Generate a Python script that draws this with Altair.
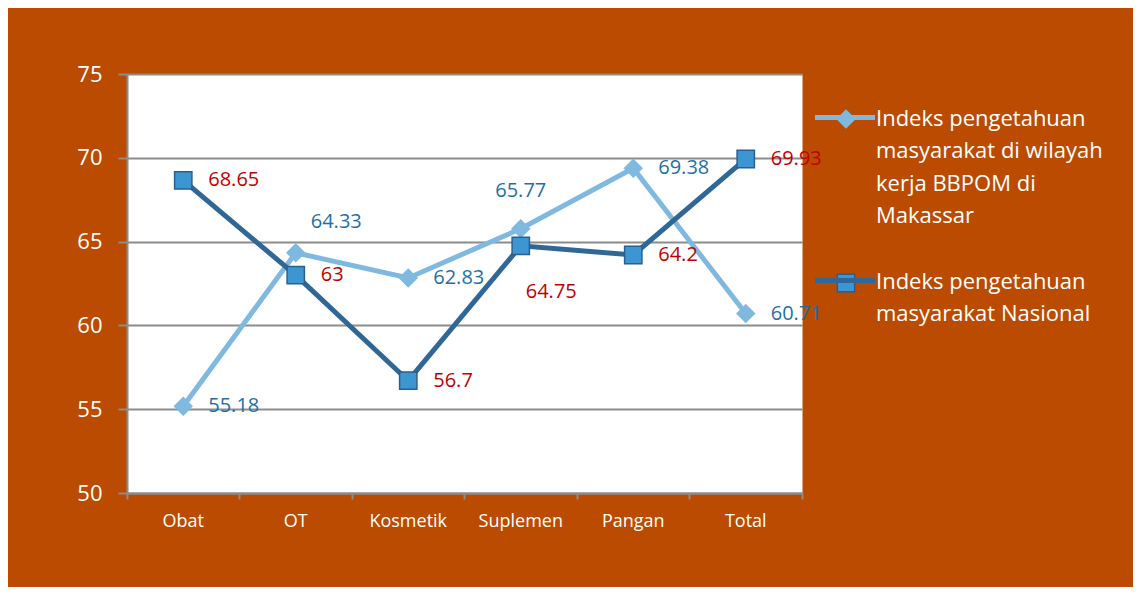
import altair as alt
import pandas as pd

# ---- data ----
categories = ["Obat", "OT", "Kosmetik", "Suplemen", "Pangan", "Total"]
series_names = [
    "Indeks pengetahuan\nmasyarakat  di wilayah\nkerja BBPOM di\nMakassar",
    "Indeks   pengetahuan\nmasyarakat   Nasional",
]
series_keys = ["M", "N"]
makassar = [55.18, 64.33, 62.83, 65.77, 69.38, 60.71]
nasional = [68.65, 63, 56.7, 64.75, 64.2, 69.93]
y_ticks = [50, 55, 60, 65, 70, 75]

rows = []
for key, name, vals in zip(series_keys, series_names, [makassar, nasional]):
    for c, v in zip(categories, vals):
        rows.append({"kategori": c, "series": name, "seri": name, "key": key, "value": v})
df = pd.DataFrame(rows)

# ---- styles ----
BG = "#BB4B00"
GRID = "#8C8C8C"
LIGHT = "#7FB9E0"
DARK = "#2F6797"
SQ_FILL = "#3C96D2"
SQ_STROKE = "#2B5F8F"
LBL_BLUE = "#1F6FA5"
LBL_RED = "#C00000"
FONT = "Open Sans"

x_enc = alt.X(
    "kategori:N",
    sort=categories,
    scale=alt.Scale(type="band", paddingInner=0, paddingOuter=0),
    axis=alt.Axis(
        title=None, labelAngle=0, labelColor="white", labelFont=FONT,
        labelFontSize=18, labelPadding=13, tickSize=6, tickColor=GRID,
        tickWidth=2, domainColor=GRID, domainWidth=2, bandPosition=1,
        tickExtra=True, grid=False,
    ),
)
y_enc = alt.Y(
    "value:Q",
    scale=alt.Scale(domain=[50, 75], nice=False, zero=False),
    axis=alt.Axis(
        title=None, values=y_ticks, labelColor="white", labelFont=FONT,
        labelFontSize=22, labelPadding=16, tickSize=9, tickColor=GRID,
        tickWidth=2, domainColor=GRID, domainWidth=2, grid=True,
        gridColor=GRID, gridWidth=2,
    ),
)

LEG_X = 687
LEG_Y = 20.5
common_leg = dict(
    title=None, orient="none", labelFont=FONT, labelFontSize=22,
    labelColor="white", labelLimit=400, labelBaseline="alphabetic", padding=0,
)

line_leg = alt.Legend(
    legendX=LEG_X, legendY=LEG_Y, symbolType="M-1.0526,-0.277L1.0526,-0.277",
    symbolSize=3249, symbolStrokeWidth=5, labelOffset=0, rowPadding=30,
    labelExpr="split(datum.label, '\\n')", **common_leg,
)
# marker legend: same rows, labels emptied (only the symbols are shown)
mark_leg = alt.Legend(
    legendX=LEG_X + 21, legendY=LEG_Y + 13.5, symbolSize=300,
    symbolStrokeWidth=1.5, labelOffset=1, rowPadding=44,
    labelExpr="split(replace(datum.label, regexp('.', 'g'), ''), '\\n')",
    **common_leg,
)

lines = alt.Chart().mark_line(strokeWidth=5).encode(
    x=x_enc, y=y_enc,
    color=alt.Color("series:N", scale=alt.Scale(domain=series_names, range=[LIGHT, DARK]), legend=line_leg),
)

points = alt.Chart().mark_point(filled=True, size=300, strokeWidth=1.5, opacity=1).encode(
    x=x_enc, y=y_enc,
    shape=alt.Shape("seri:N", scale=alt.Scale(domain=series_names, range=["diamond", "square"]), legend=mark_leg),
    fill=alt.Fill("seri:N", scale=alt.Scale(domain=series_names, range=[LIGHT, SQ_FILL]), legend=mark_leg),
    stroke=alt.Stroke("seri:N", scale=alt.Scale(domain=series_names, range=[LIGHT, SQ_STROKE]), legend=mark_leg),
)

def labels(filter_expr, **mark_kw):
    return alt.Chart().mark_text(font=FONT, fontSize=20, baseline="middle", **mark_kw).encode(
        x=x_enc, y=y_enc,
        text=alt.Text("value:Q", format="~g"),
        color=alt.Color("key:N", scale=alt.Scale(domain=series_keys, range=[LBL_BLUE, LBL_RED]), legend=None),
    ).transform_filter(filter_expr)

exc1 = "datum.key == 'M' && datum.kategori == 'OT'"
exc2 = "datum.key == 'M' && datum.kategori == 'Suplemen'"
exc3 = "datum.key == 'N' && datum.kategori == 'Suplemen'"

t_main = labels(f"!({exc1}) && !({exc2}) && !({exc3})", align="left", dx=25)
t1 = labels(exc1, align="left", dx=15, dy=-31)
t2 = labels(exc2, align="center", dy=-38)
t3 = labels(exc3, align="left", dx=5, dy=46)

chart = alt.layer(lines, points, t_main, t1, t2, t3, data=df).resolve_scale(
    color="independent"
).properties(
    width=675, height=419,
    autosize=alt.AutoSizeParams(type="none"),
    padding={"left": 119, "top": 66, "right": 331, "bottom": 94},
).configure(
    background=BG,
    style={"guide-label": {"lineHeight": 32.5}},
).configure_view(fill="white", stroke="transparent")

chart.save("out.html", embed_options={"renderer": "svg", "actions": False})
